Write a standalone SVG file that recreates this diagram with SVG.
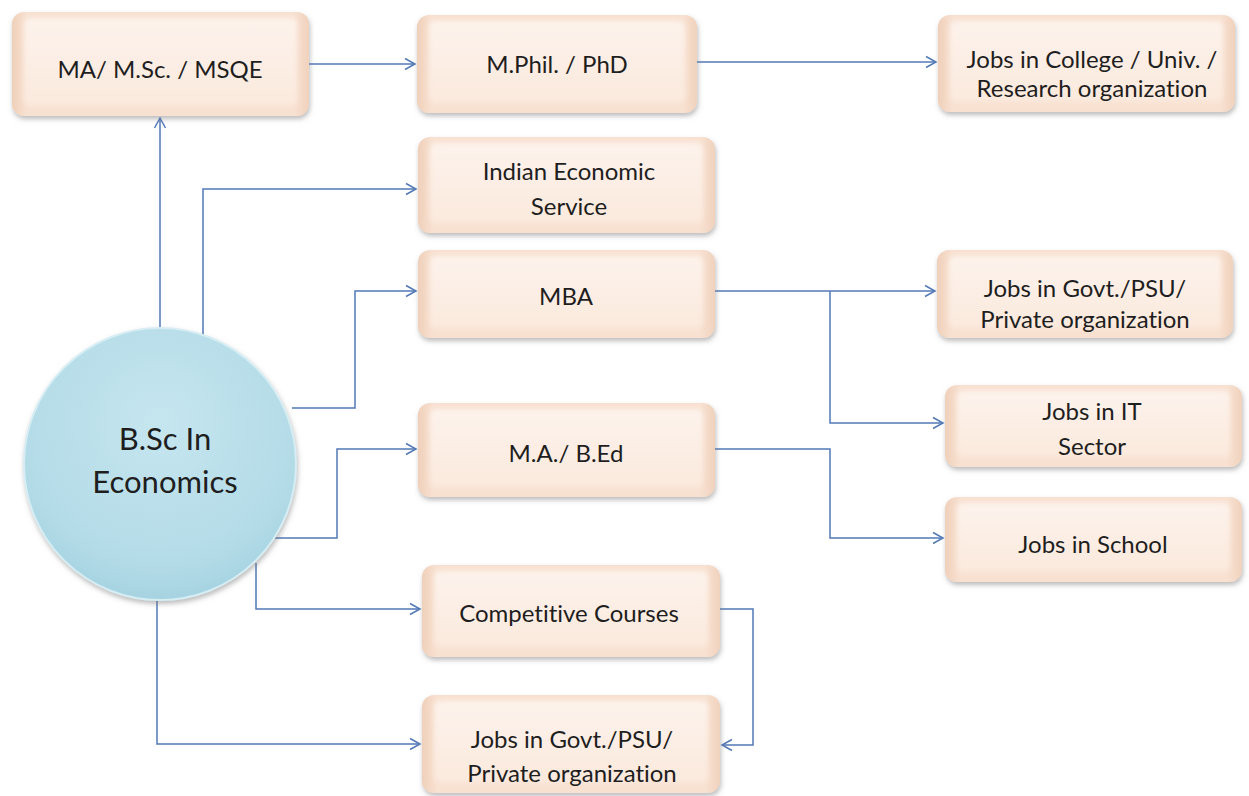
<svg xmlns="http://www.w3.org/2000/svg" width="1249" height="796" viewBox="0 0 1249 796">
<defs>
<linearGradient id="boxEdge" x1="0" y1="0" x2="1" y2="0">
<stop offset="0" stop-color="#efd0ba"/>
<stop offset="0.05" stop-color="#f8e1d1"/>
<stop offset="0.95" stop-color="#f8e1d1"/>
<stop offset="1" stop-color="#f0d2bd"/>
</linearGradient>
<linearGradient id="boxFace" x1="0" y1="0" x2="0" y2="1">
<stop offset="0" stop-color="#fdf3ec"/>
<stop offset="1" stop-color="#fbe9dd"/>
</linearGradient>
<radialGradient id="circ" cx="0.5" cy="0.35" r="0.65">
<stop offset="0" stop-color="#c6e6ef"/>
<stop offset="0.8" stop-color="#b3dbe7"/>
<stop offset="1" stop-color="#a6d3e1"/>
</radialGradient>
<filter id="shadow" x="-10%" y="-10%" width="120%" height="130%">
<feDropShadow dx="1" dy="3" stdDeviation="2.5" flood-color="#7a7a7a" flood-opacity="0.5"/>
</filter>
<filter id="soft" x="-5%" y="-10%" width="110%" height="120%">
<feGaussianBlur stdDeviation="2.5"/>
</filter>
<marker id="arr" markerUnits="userSpaceOnUse" markerWidth="14" markerHeight="14" refX="11" refY="6" orient="auto" viewBox="0 0 14 12">
<path d="M1,0.5 L11,6 L1,11.5" fill="none" stroke="#5279b6" stroke-width="1.5"/>
</marker>
</defs>
<style>
.box .outer{fill:url(#boxEdge);filter:url(#shadow)}
.box .inner{fill:url(#boxFace);filter:url(#soft)}
.t{font-family:"Lato","Open Sans","Liberation Sans",sans-serif;font-size:24px;fill:#1e1e1e;text-anchor:middle;font-variant-ligatures:none}
.ct{font-family:"Lato","Open Sans","Liberation Sans",sans-serif;font-size:31px;fill:#1e1e1e;text-anchor:middle}
.c{fill:none;stroke:#5279b6;stroke-width:1.5}
.c.a{marker-end:url(#arr)}
</style>
<rect width="1249" height="796" fill="#ffffff"/>

<g id="connectors">
<path class="c a" d="M160,330 V118"/>
<path class="c a" d="M203,346 V189 H416"/>
<path class="c a" d="M292,408 H355 V291 H416"/>
<path class="c a" d="M257,538 H337 V449 H416"/>
<path class="c a" d="M256,563 V609 H420"/>
<path class="c a" d="M157,600 V744 H420"/>
<path class="c a" d="M720,609 H753 V745 H722"/>
<path class="c a" d="M309,64 H415"/>
<path class="c a" d="M697,62 H936"/>
<path class="c a" d="M715,291 H935"/>
<path class="c a" d="M830,291 V423 H943"/>
<path class="c a" d="M715,449 H830 V538 H943"/>
</g>

<g id="n-bsc">
<circle cx="160" cy="464" r="136" fill="url(#circ)" stroke="#d6edf3" stroke-width="2" filter="url(#shadow)"/>
<text class="ct" x="165" y="450">B.Sc In</text>
<text class="ct" x="165" y="493">Economics</text>
</g>

<g id="n-ma" class="box">
<rect class="outer" x="12" y="12" width="297" height="104" rx="12"/>
<rect class="inner" x="24" y="18" width="273" height="88" rx="6"/>
<text class="t" x="160" y="78">MA/ M.Sc. / MSQE</text>
</g>

<g id="n-mphil" class="box">
<rect class="outer" x="417" y="15" width="280" height="98" rx="12"/>
<rect class="inner" x="429" y="21" width="256" height="82" rx="6"/>
<text class="t" x="557" y="73">M.Phil. / PhD</text>
</g>

<g id="n-college" class="box">
<rect class="outer" x="938" y="15" width="297" height="97" rx="12"/>
<rect class="inner" x="950" y="21" width="273" height="81" rx="6"/>
<text class="t" x="1092" y="68">Jobs in College / Univ. /</text>
<text class="t" x="1092" y="97">Research organization</text>
</g>

<g id="n-ies" class="box">
<rect class="outer" x="418" y="137" width="297" height="96" rx="12"/>
<rect class="inner" x="430" y="143" width="273" height="80" rx="6"/>
<text class="t" x="569" y="180">Indian Economic</text>
<text class="t" x="569" y="215">Service</text>
</g>

<g id="n-mba" class="box">
<rect class="outer" x="418" y="250" width="297" height="88" rx="12"/>
<rect class="inner" x="430" y="256" width="273" height="72" rx="6"/>
<text class="t" x="566" y="305">MBA</text>
</g>

<g id="n-govt1" class="box">
<rect class="outer" x="937" y="250" width="296" height="88" rx="12"/>
<rect class="inner" x="949" y="256" width="272" height="72" rx="6"/>
<text class="t" x="1085" y="297">Jobs in Govt./PSU/</text>
<text class="t" x="1085" y="328">Private organization</text>
</g>

<g id="n-it" class="box">
<rect class="outer" x="945" y="385" width="297" height="82" rx="12"/>
<rect class="inner" x="957" y="391" width="273" height="66" rx="6"/>
<text class="t" x="1092" y="420">Jobs in IT</text>
<text class="t" x="1092" y="455">Sector</text>
</g>

<g id="n-school" class="box">
<rect class="outer" x="945" y="497" width="297" height="85" rx="12"/>
<rect class="inner" x="957" y="503" width="273" height="69" rx="6"/>
<text class="t" x="1093" y="553">Jobs in School</text>
</g>

<g id="n-bed" class="box">
<rect class="outer" x="418" y="403" width="297" height="94" rx="12"/>
<rect class="inner" x="430" y="409" width="273" height="78" rx="6"/>
<text class="t" x="566" y="462">M.A./ B.Ed</text>
</g>

<g id="n-comp" class="box">
<rect class="outer" x="422" y="565" width="298" height="92" rx="12"/>
<rect class="inner" x="434" y="571" width="274" height="76" rx="6"/>
<text class="t" x="569" y="622">Competitive Courses</text>
</g>

<g id="n-govt2" class="box">
<rect class="outer" x="422" y="695" width="298" height="98" rx="12"/>
<rect class="inner" x="434" y="701" width="274" height="82" rx="6"/>
<text class="t" x="572" y="748">Jobs in Govt./PSU/</text>
<text class="t" x="572" y="782">Private organization</text>
</g>
</svg>
